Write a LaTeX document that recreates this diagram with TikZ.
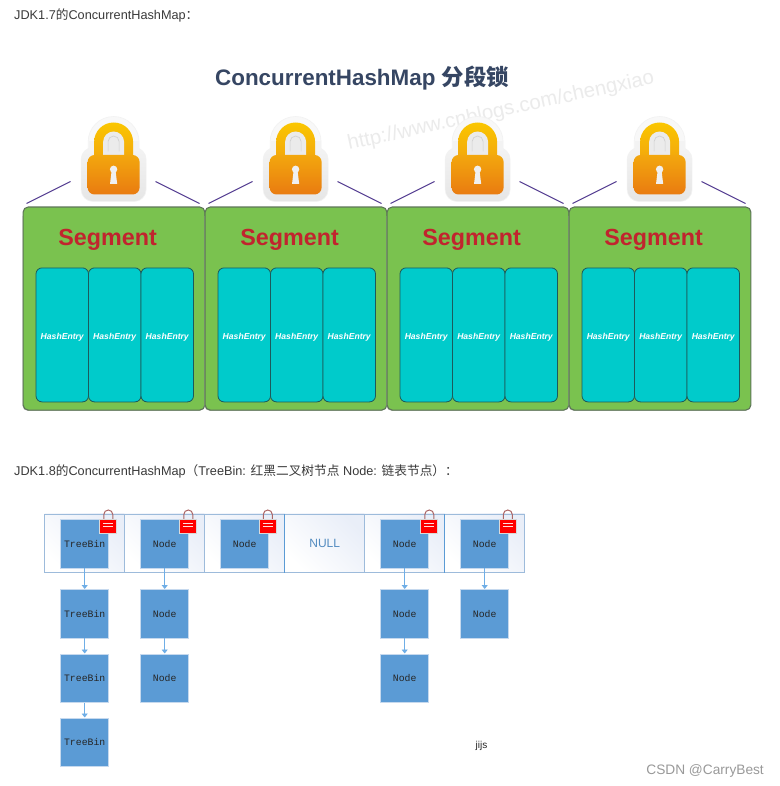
\documentclass[tikz,border=0pt]{standalone}
\usepackage{fontspec}
\setmainfont{Liberation Sans}
\setmonofont{Liberation Mono}
\newfontfamily\cjk{Noto Sans CJK SC}
\usetikzlibrary{arrows.meta}
\definecolor{segfill}{HTML}{7AC24F}
\definecolor{segline}{HTML}{5E7658}
\definecolor{cellfill}{HTML}{00CBCB}
\definecolor{cellline}{HTML}{1C5A5C}
\definecolor{segred}{HTML}{C1242E}
\definecolor{titleblue}{HTML}{364663}
\definecolor{wirepurple}{HTML}{51398F}
\definecolor{binfill}{HTML}{5B9BD5}
\definecolor{binline}{HTML}{C6D9EE}
\definecolor{linkblue}{HTML}{6FAEE6}
\definecolor{tableline}{HTML}{9DBBDB}
\definecolor{bodytext}{HTML}{3A3A3A}
\definecolor{shacktop}{HTML}{FAC600}
\definecolor{shackbot}{HTML}{F3A70D}
\definecolor{bodybot}{HTML}{E97B11}
\definecolor{slotwash}{HTML}{E9EEF8}
\definecolor{halotop}{HTML}{F8F8F8}
\definecolor{halomid}{HTML}{F3F3F3}
\definecolor{halobot}{HTML}{E6E6E6}
\tikzset{
  caption/.style={anchor=base west,inner sep=0pt,text=bodytext,font=\fontsize{12.7}{14}\selectfont},
  segbox/.style={draw=segline,line width=1.1pt,fill=segfill,rounded corners=5pt,minimum width=181.7pt,minimum height=203pt,anchor=north west,inner sep=0pt},
  segname/.style={inner sep=0pt,text=segred,font=\bfseries\fontsize{23.3}{26}\selectfont},
  entrybox/.style={draw=cellline,line width=.8pt,fill=cellfill,rounded corners=6pt,minimum width=52.5pt,minimum height=134pt,anchor=north west,inner sep=0pt},
  entrytext/.style={inner sep=0pt,text=white,font=\bfseries\itshape\fontsize{8.6}{10}\selectfont},
  wire/.style={wirepurple,line width=1pt},
  slot/.style={draw=tableline,line width=.8pt,minimum width=80pt,minimum height=58.6pt,anchor=north west,inner sep=0pt},
  binbox/.style={draw=binline,line width=.8pt,fill=binfill,minimum width=48pt,minimum height=48.5pt,anchor=north west,inner sep=0pt,text=black!85,font=\ttfamily\fontsize{9.8}{11}\selectfont},
  link/.style={draw=linkblue,line width=.9pt,-{Triangle[width=6pt,length=4pt]}},
}
% Glossy orange padlock, centred on x = #1
\newcommand{\goldlock}[1]{%
  \begin{scope}[shift={(#1,0)}]
    % pale rim: an arch over a rounded base
    \fill[halotop,draw=black!5,line width=.6pt] (-25.5,165) -- (-25.5,142.5) arc[start angle=180,end angle=360,radius=25.5] -- (25.5,165) -- cycle;
    \path[top color=halomid,bottom color=halobot,draw=black!5,line width=.6pt,rounded corners=12pt] (-32.5,148) rectangle (32.5,202);
    \fill[halomid] (-25,142) rectangle (25,152);
    % shackle and its opening
    \shade[top color=shacktop,bottom color=shackbot]
      (-19.5,160) -- (-19.5,142.5) arc[start angle=180,end angle=360,radius=19.5] -- (19.5,160) -- cycle;
    \fill[white!92!black] (-10.5,157) -- (-10.5,142.5) arc[start angle=180,end angle=360,radius=10.5] -- (10.5,157) -- cycle;
    \draw[black!18,line width=.7pt] (-5.5,152) -- (-5.5,142) arc[start angle=180,end angle=360,radius=5.5] -- (5.5,152);
    % body and keyhole
    \shade[top color=shackbot,bottom color=bodybot,rounded corners=7pt]
      (-26,155.5) rectangle (26,195);
    \fill[white!94!black] (0,169.8) circle[radius=3.7];
    \fill[white!94!black] (-1.8,170) -- (1.8,170) -- (3.6,184.5) -- (-3.6,184.5) -- cycle;
  \end{scope}
}
% Small red padlock sitting on a bin corner, centred on x = #1
\newcommand{\redlock}[1]{%
  \begin{scope}[shift={(#1,0)}]
    \draw[red!45!black!60!white,line width=1pt] (-4.5,520) -- (-4.5,515) arc[start angle=180,end angle=360,radius=4.5] -- (4.5,520);
    \path[draw=black!15,line width=.8pt,fill=red] (-8.5,519.5) rectangle (8.5,533.5);
    \draw[white!88!red,line width=.8pt] (-5,523.5) -- (5,523.5) (-5,526.5) -- (5,526.5);
  \end{scope}
}
\begin{document}
\begin{tikzpicture}[x=1pt,y=-1pt]
  \useasboundingbox (0,0) rectangle (779,786);
  \fill[white] (0,0) rectangle (779,786);

  \node[caption] (head17) at (14,19.5) {JDK1.7{\cjk 的}ConcurrentHashMap{\cjk ：}};

  % Segmented map
  \node[inner sep=0pt,anchor=base west,text=titleblue,font=\bfseries\fontsize{22.4}{26}\selectfont] (title) at (215,86) {ConcurrentHashMap {\cjk 分段锁}};
  \node[inner sep=0pt,rotate=12.3,text=black!8,font=\fontsize{20.4}{24}\selectfont] (mark) at (501,111.5) {http://www.cnblogs.com/chengxiao};

  \begin{scope}[xshift=-0.4pt,yshift=0.5pt]
  \foreach \i/\x in {1/23,2/205,3/387,4/569}{
    \fill[black!30,rounded corners=5pt] (\x,212) rectangle (\x+181.7,411.3);
    \node[segbox] (seg\i) at (\x,207) {};
  }
  \foreach \i/\x in {1/23,2/205,3/387,4/569}{
    \node[segname] (name\i) at (\x+85,240) {Segment};
    \node[entrybox] (e\i a) at (\x+13,268) {};
    \node[entrybox] (e\i b) at (\x+65.5,268) {};
    \node[entrybox] (e\i c) at (\x+118,268) {};
    \node[entrytext] at ([yshift=-2pt]e\i a.center) {HashEntry};
    \node[entrytext] at ([yshift=-2pt]e\i b.center) {HashEntry};
    \node[entrytext] at ([yshift=-2pt]e\i c.center) {HashEntry};
    \goldlock{\x+91}
    \coordinate (wl\i a) at (\x+48,182);
    \coordinate (wl\i b) at (\x+4,204);
    \coordinate (wr\i a) at (\x+133,182);
    \coordinate (wr\i b) at (\x+177,204);
    \draw[wire] (wl\i a) -- (wl\i b);
    \draw[wire] (wr\i a) -- (wr\i b);
  }
  \end{scope}

  \begin{scope}[xshift=0.3pt,yshift=0.5pt]
  % Hash table slots
  \foreach \i/\x in {1/44,2/124,3/204,4/284,5/364,6/444}{
    \node[slot,shading=axis,left color=slotwash,right color=white,shading angle=-45] (slot\i) at (\x,514) {};
  }
  \draw[binfill,line width=1pt] (slot4.north west) -- (slot4.south west) (slot6.north west) -- (slot6.south west);
  \node[inner sep=0pt,text=binfill!90!black,font=\fontsize{12}{14}\selectfont] (null) at (slot4.center) {NULL};

  % Bins and their chains
  \foreach \n/\t/\x/\y in {a1/TreeBin/60/519.5,a2/TreeBin/60/589.5,a3/TreeBin/60/654,a4/TreeBin/60/718,
                           b1/Node/140/519.5,b2/Node/140/589.5,b3/Node/140/654,
                           c1/Node/220/519.5,
                           e1/Node/380/519.5,e2/Node/380/589.5,e3/Node/380/654,
                           f1/Node/460/519.5,f2/Node/460/589.5}{
    \node[binbox] (\n) at (\x,\y) {\t};
  }
  \foreach \s/\t in {a1/a2,a2/a3,a3/a4,b1/b2,b2/b3,e1/e2,e2/e3,f1/f2}{
    \draw[link] (\s) -- (\t);
  }
  \foreach \x in {108,188,267.5,429,507.5}{\redlock{\x}}
  \end{scope}

  \node[caption] (head18) at (14,475.5) {JDK1.8{\cjk 的}ConcurrentHashMap{\cjk （}TreeBin: {\cjk 红黑二叉树节点} Node: {\cjk 链表节点）：}};

  \node[inner sep=0pt,text=black!85,font=\fontsize{10}{12}\selectfont] (tag) at (481.5,745.5) {jijs};
  \node[inner sep=0pt,anchor=base east,text=black!40,font=\fontsize{13.7}{15}\selectfont] (brand) at (764,774) {CSDN @CarryBest};
\end{tikzpicture}
\end{document}
